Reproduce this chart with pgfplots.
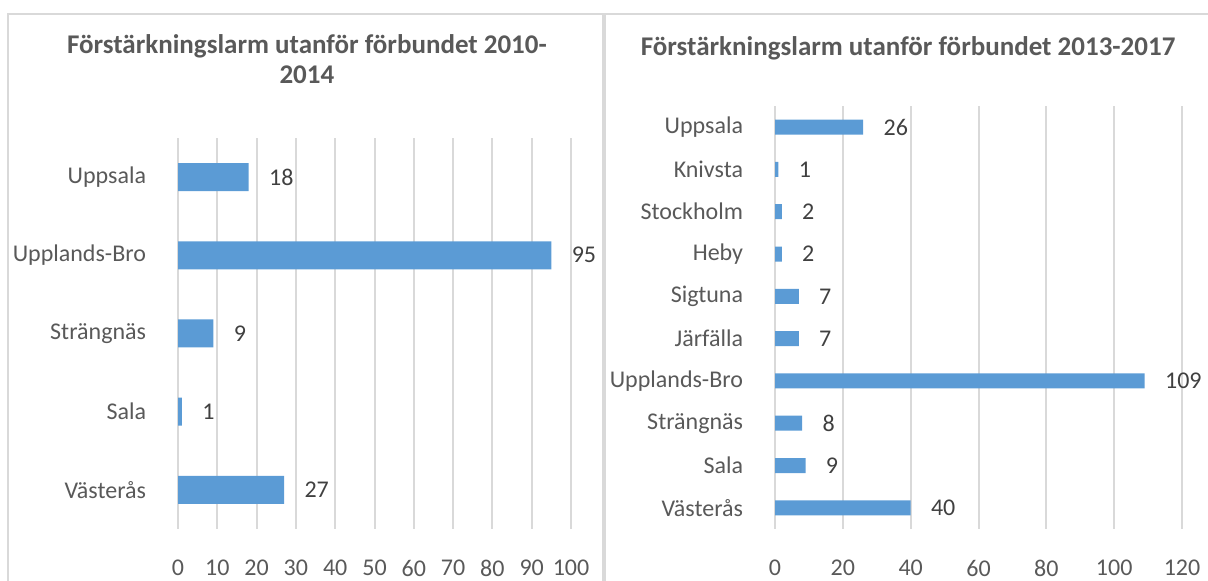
\documentclass[border=0pt]{standalone}
\usepackage{fontspec}
\setmainfont{Carlito}
\usepackage{pgfplots}
\pgfplotsset{compat=1.18}
\definecolor{barblue}{HTML}{5B9BD5}
\definecolor{gridgray}{HTML}{D9D9D9}
\definecolor{txt}{HTML}{595959}
\definecolor{valtxt}{HTML}{404040}

\pgfplotsset{
  excelbar/.style={
    scale only axis, anchor=south west,
    xbar, xmin=0, axis line style={draw=none},
    xmajorgrids, major grid style={gridgray, line width=1pt},
    ytick=data, ytick style={draw=none}, xtick style={draw=none},
    /pgf/number format/assume math mode=true,
    tick label style={font=\fontsize{12}{14}\selectfont, text=txt},
    yticklabel style={anchor=east, inner sep=0pt, xshift=-11.5pt},
    xticklabel style={anchor=center, inner sep=0pt, yshift=-19.5pt},
    nodes near coords,
    nodes near coords style={anchor=west, inner sep=0pt, xshift=10pt,
      font=\fontsize{12}{14}\selectfont, text=valtxt},
    title style={font=\bfseries\fontsize{13.5}{15}\selectfont, text=txt,
      anchor=center, align=center, yshift=0pt},
  }
}

\begin{document}
\begin{tikzpicture}
\useasboundingbox (0,0) rectangle (604pt,290.5pt);
\draw[gridgray, line width=0.8pt] (4pt,0) -- (4pt,283.5pt) -- (301.5pt,283.5pt) -- (301.5pt,0);
\draw[gridgray, line width=0.8pt] (302.5pt,0) -- (302.5pt,283.5pt) -- (604pt,283.5pt);

% 2010-2014
\begin{axis}[excelbar,
  at={(89pt,26pt)}, width=196.5pt, height=195.5pt,
  xmax=100, xtick={0,10,...,100},
  ymin=-0.5, ymax=4.5, bar width=14pt,
  yticklabels={Västerås,Sala,Strängnäs,Upplands-Bro,Uppsala},
  title={Förstärkningslarm utanför förbundet 2010-\\2014},
  title style={at={(0.328,1.172)}},
]
\addplot[fill=barblue, draw=none] coordinates {(27,0) (1,1) (9,2) (95,3) (18,4)};
\end{axis}

% 2013-2017
\begin{axis}[excelbar,
  at={(387.5pt,26pt)}, width=203.5pt, height=211.5pt,
  xmax=120, xtick={0,20,...,120},
  ymin=-0.5, ymax=9.5, bar width=7.5pt,
  yticklabels={Västerås,Sala,Strängnäs,Upplands-Bro,Järfälla,Sigtuna,Heby,Stockholm,Knivsta,Uppsala},
  title={Förstärkningslarm utanför förbundet 2013-2017},
  title style={at={(0.327,1.109)}},
]
\addplot[fill=barblue, draw=none] coordinates {(40,0) (9,1) (8,2) (109,3) (7,4) (7,5) (2,6) (2,7) (1,8) (26,9)};
\end{axis}
\end{tikzpicture}
\end{document}
